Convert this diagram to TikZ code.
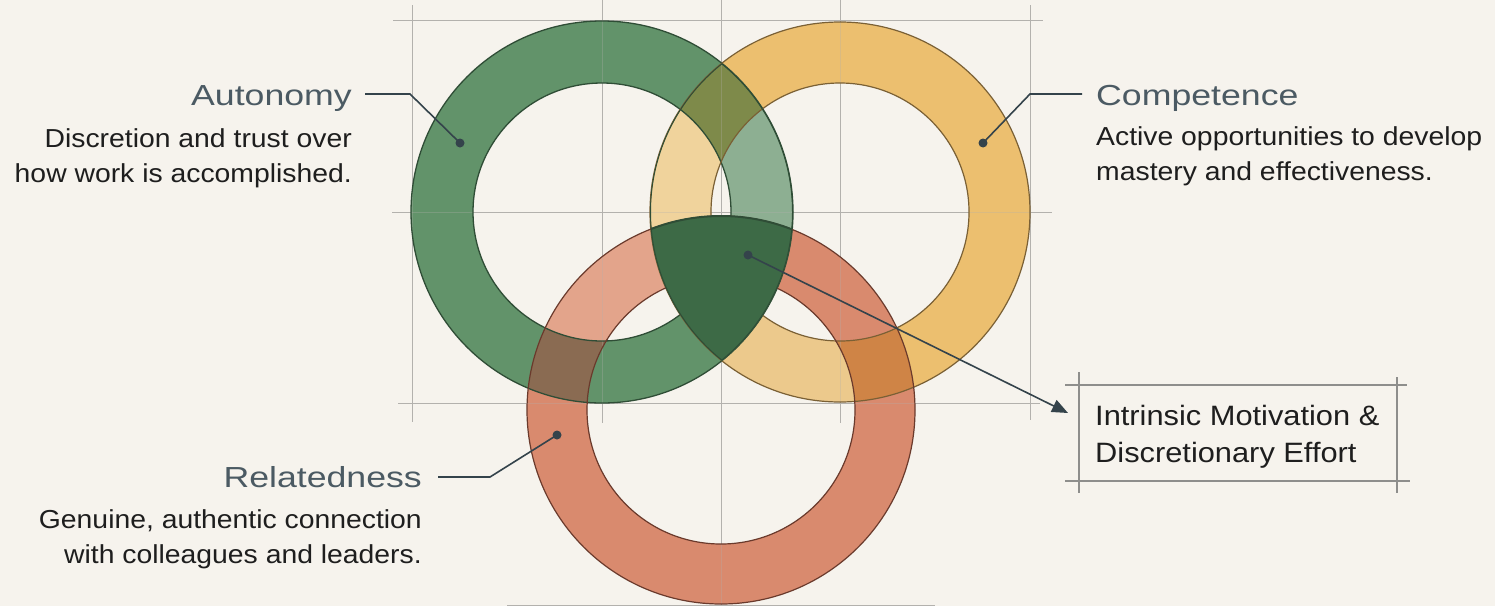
\documentclass[tikz,border=0pt]{standalone}
\usepackage{fontspec}
\usetikzlibrary{arrows.meta}
\setmainfont{Liberation Sans}
\newfontfamily\titlef[FakeStretch=1.23]{Liberation Sans}
\newfontfamily\bodyf[FakeStretch=1.09]{Liberation Sans}
\newfontfamily\boxf[FakeStretch=1.1]{Liberation Sans}
\definecolor{bgc}{HTML}{F6F3ED}
\definecolor{gridc}{HTML}{B3B1AD}
\definecolor{boxc}{HTML}{8E8E8C}
\definecolor{gfill}{HTML}{62936A}
\definecolor{gsage}{HTML}{8DAF92}
\definecolor{gline}{HTML}{2F4D36}
\definecolor{yfill}{HTML}{ECBF6F}
\definecolor{ylight}{HTML}{F0D39C}
\definecolor{ymid}{HTML}{ECC98C}
\definecolor{yline}{HTML}{7A6035}
\definecolor{rfill}{HTML}{D98A6E}
\definecolor{rlight}{HTML}{E3A48B}
\definecolor{rline}{HTML}{6A3A2C}
\definecolor{olivec}{HTML}{7E8A4A}
\definecolor{brownc}{HTML}{8A6B52}
\definecolor{orangec}{HTML}{CF8446}
\definecolor{darkg}{HTML}{3D6A46}
\definecolor{inkc}{HTML}{34434B}
\definecolor{ttlc}{HTML}{4B5A63}
\definecolor{bodyc}{HTML}{1E1E1E}
\newcommand\pGo{(602,212) circle[radius=191pt]}
\newcommand\pGi{(602,212) circle[radius=129pt]}
\newcommand\pYo{(840,212) circle[radius=190pt]}
\newcommand\pYi{(840,212) circle[radius=129pt]}
\newcommand\pRo{(721,410) circle[radius=194pt]}
\newcommand\pRi{(721,410) circle[radius=134pt]}
\tikzset{
  gridln/.style={draw=gridc, line width=1pt},
  boxln/.style={draw=boxc, line width=1.3pt},
  leader/.style={draw=inkc, line width=1.6pt},
  dotc/.style={fill=inkc},
  ttl/.style={font=\titlef\fontsize{29}{32}\selectfont, text=ttlc, inner sep=0pt},
  bdy/.style={font=\bodyf\fontsize{26}{30}\selectfont, text=bodyc, inner sep=0pt},
  boxt/.style={font=\boxf\fontsize{28}{32}\selectfont, text=bodyc, inner sep=0pt},
}
\newcommand\gridlines{%
  \draw[gridln] (412,5) -- (412,422);
  \draw[gridln] (602,0) -- (602,423);
  \draw[gridln] (721,0) -- (721,606);
  \draw[gridln] (840,0) -- (840,423);
  \draw[gridln] (1030,5) -- (1030,420);
  \draw[gridln] (393,20) -- (1043,20);
  \draw[gridln] (392,212) -- (1052,212);
  \draw[gridln] (398,403) -- (1040,403);
  \draw[gridln] (507,605) -- (935,605);
}
\begin{document}
\begin{tikzpicture}[x=1pt,y=-1pt]
\useasboundingbox (0,0) rectangle (1495,606);
\fill[bgc] (0,0) rectangle (1495,606);
\gridlines
% base rings
\fill[gfill, even odd rule] \pGo \pGi;
\fill[yfill, even odd rule] \pYo \pYi;
\fill[rfill, even odd rule] \pRo \pRi;
% lighter washes where a ring crosses another hole
\begin{scope}\clip \pYi; \fill[gsage, even odd rule] \pGo \pGi; \end{scope}
\begin{scope}\clip \pGi; \fill[ylight, even odd rule] \pYo \pYi; \end{scope}
\begin{scope}\clip \pRi; \fill[ymid, even odd rule] \pYo \pYi; \end{scope}
\begin{scope}\clip \pGi; \fill[rlight, even odd rule] \pRo \pRi; \end{scope}
% ring overlaps
\begin{scope}[even odd rule]\clip \pGo \pGi; \fill[olivec] \pYo \pYi; \end{scope}
\begin{scope}[even odd rule]\clip \pGo \pGi; \fill[brownc] \pRo \pRi; \end{scope}
\begin{scope}[even odd rule]\clip \pYo \pYi; \fill[orangec] \pRo \pRi; \end{scope}
% faint grid through the washes
\begin{scope}[opacity=0.3]\gridlines\end{scope}
% outlines
\draw[gline, line width=1.3pt] \pGo \pGi;
\draw[yline, line width=1.2pt] \pYo \pYi;
\draw[rline, line width=1.2pt] \pRo \pRi;
% dark centre
\begin{scope}
  \clip \pGo; \clip \pYo;
  \fill[darkg] \pRo;
  \draw[gline, line width=2pt] \pGo \pYo \pRo;
\end{scope}
% box lines
\draw[boxln] (1079,372) -- (1079,493);
\draw[boxln] (1397,377) -- (1397,493);
\draw[boxln] (1065,385) -- (1407,385);
\draw[boxln] (1065,481) -- (1410,481);
% texts
\node[ttl, anchor=base east] (autT) at (352,105) {Autonomy};
\node[bdy, anchor=base east] (autD1) at (352,147) {Discretion and trust over};
\node[bdy, anchor=base east] (autD2) at (352,182) {how work is accomplished.};
\node[ttl, anchor=base west] (comT) at (1096,105) {Competence};
\node[bdy, anchor=base west] (comD1) at (1096,145) {Active opportunities to develop};
\node[bdy, anchor=base west] (comD2) at (1096,180) {mastery and effectiveness.};
\node[ttl, anchor=base east] (relT) at (422,487) {Relatedness};
\node[bdy, anchor=base east] (relD1) at (422,528) {Genuine, authentic connection};
\node[bdy, anchor=base east] (relD2) at (422,563) {with colleagues and leaders.};
\node[boxt, anchor=base west] (im1) at (1095,425) {Intrinsic Motivation \&};
\node[boxt, anchor=base west] (im2) at (1095,462) {Discretionary Effort};
% leader coordinates
\coordinate (aStart) at (365,94);
\coordinate (aKnee) at (410,94);
\coordinate (aDot) at (460,143);
\coordinate (cStart) at (1082,94);
\coordinate (cKnee) at (1030,94);
\coordinate (cDot) at (983,143);
\coordinate (rStart) at (438,477);
\coordinate (rKnee) at (490,477);
\coordinate (rDot) at (557,435);
\coordinate (mDot) at (748,255);
\coordinate (mTip) at (1068,413);
\draw[leader] (aStart) -- (aKnee) -- (aDot);
\draw[leader] (cStart) -- (cKnee) -- (cDot);
\draw[leader] (rStart) -- (rKnee) -- (rDot);
\draw[leader, -{Triangle[length=16pt,width=13pt]}] (mDot) -- (mTip);
\foreach \d in {aDot,cDot,rDot,mDot} \fill[dotc] (\d) circle[radius=4.5pt];
\end{tikzpicture}
\end{document}
